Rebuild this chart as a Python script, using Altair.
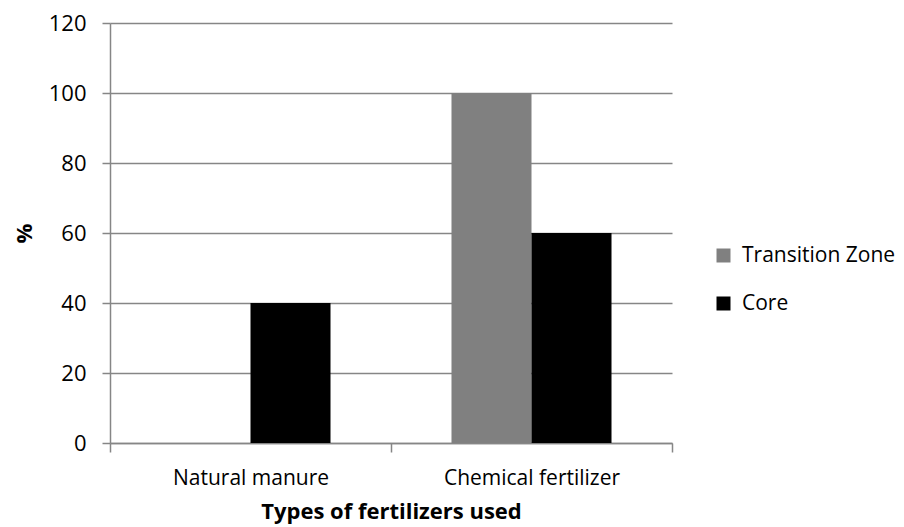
import altair as alt
import pandas as pd

categories = ["Natural manure", "Natural manure", "Chemical fertilizer", "Chemical fertilizer"]
zones = ["Transition Zone", "Core", "Transition Zone", "Core"]
values = [0, 40, 100, 60]

df = pd.DataFrame({"cat": categories, "zone": zones, "val": values})

FONT = "Open Sans"
GRAY = "#868686"
FS = 21

chart = alt.Chart(df).mark_bar().encode(
    x=alt.X("cat:N", sort=["Natural manure", "Chemical fertilizer"],
            scale=alt.Scale(paddingInner=0, paddingOuter=0),
            axis=alt.Axis(title="Types of fertilizers used", labelAngle=0, tickBand="extent",
                          domainColor=GRAY, tickColor=GRAY, tickSize=9, tickWidth=1.5,
                          domainWidth=1.5, labelFontSize=FS, labelColor="black",
                          labelPadding=15, labelLimit=400, titleFontSize=22, titleFontWeight="bold",
                          titlePadding=13, titleColor="black", labelFont=FONT, titleFont=FONT,
                          grid=False)),
    xOffset=alt.XOffset("zone:N", sort=["Transition Zone", "Core"],
                        scale=alt.Scale(paddingInner=0, paddingOuter=0.756)),
    y=alt.Y("val:Q", scale=alt.Scale(domain=[0, 120]),
            axis=alt.Axis(title="%", values=[0, 20, 40, 60, 80, 100, 120], titleAngle=-90,
                          domainColor=GRAY, tickColor=GRAY, tickSize=8, tickWidth=1.5,
                          domainWidth=1.5, gridColor=GRAY, gridWidth=1.5,
                          labelFontSize=22, labelColor="black", labelPadding=16,
                          titleFontSize=22, titleFontWeight="bold", titleColor="black",
                          titlePadding=12, labelFont=FONT, titleFont=FONT)),
    color=alt.Color("zone:N", sort=["Transition Zone", "Core"],
                    scale=alt.Scale(domain=["Transition Zone", "Core"], range=["#808080", "#000000"]),
                    legend=alt.Legend(title=None, orient="none", legendX=603, legendY=222,
                                      symbolType="square", symbolSize=196, symbolStrokeWidth=0,
                                      labelFontSize=21, labelFont=FONT, labelColor="black",
                                      rowPadding=26, labelOffset=8, labelLimit=300)),
).properties(
    width=562, height=420,
    autosize=alt.AutoSizeParams(type="none"),
    padding={"left": 102, "top": 15, "right": 224, "bottom": 84},
).configure_view(stroke=None)

chart.save("out.html", embed_options={"renderer": "svg", "actions": False})
